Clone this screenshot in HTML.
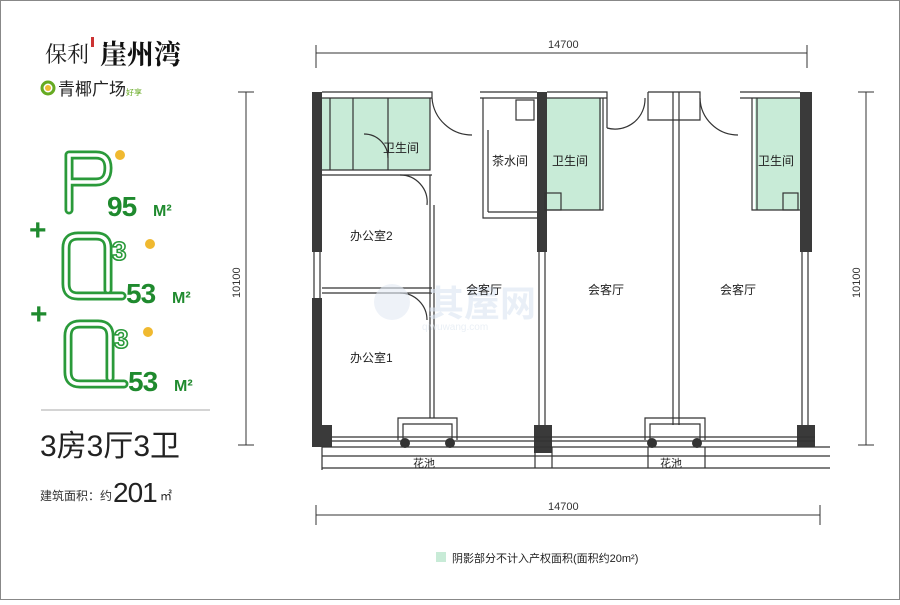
<!DOCTYPE html>
<html><head><meta charset="utf-8"><style>
body{margin:0;width:900px;height:600px;background:#fff;overflow:hidden;font-family:"Liberation Sans","Noto Sans CJK SC",sans-serif}
</style></head><body>
<svg width="900" height="600" viewBox="0 0 900 600" xmlns="http://www.w3.org/2000/svg" font-family="Liberation Sans, Noto Sans CJK SC, sans-serif">
<rect x="0.5" y="0.5" width="899" height="599" fill="#fff" stroke="#888" stroke-width="1"/>
<!-- Left panel -->
<text x="45" y="62" font-size="22" fill="#222" font-family="Noto Serif CJK SC, serif">保利</text>
<rect x="91" y="37" width="3" height="10" fill="#c33"/>
<text x="100" y="64" font-size="27" font-weight="bold" fill="#111" font-family="Noto Serif CJK SC, serif">崖州湾</text>
<circle cx="48" cy="88" r="6" fill="none" stroke="#6a2" stroke-width="3"/>
<circle cx="48" cy="88" r="3" fill="#eb3"/>
<text x="58" y="95" font-size="17" fill="#222">青椰广场</text>
<text x="126" y="95" font-size="8" fill="#6a2">好享</text>
<g fill="none" stroke-linejoin="round" stroke-linecap="round">
<g stroke="#2a9a3a" stroke-width="9">
<path d="M69 210 V155 H96 Q108 155 108 168 Q108 182 96 182 H69"/>
<path d="M108 290 V248 Q108 236 96 236 H78 Q66 236 66 248 V284 Q66 296 78 296 H122"/>
<path d="M110 378 V336 Q110 324 98 324 H80 Q68 324 68 336 V372 Q68 384 80 384 H124"/>
</g>
<g stroke="#fff" stroke-width="3.5">
<path d="M69 210 V155 H96 Q108 155 108 168 Q108 182 96 182 H69"/>
<path d="M108 290 V248 Q108 236 96 236 H78 Q66 236 66 248 V284 Q66 296 78 296 H122"/>
<path d="M110 378 V336 Q110 324 98 324 H80 Q68 324 68 336 V372 Q68 384 80 384 H124"/>
</g>
</g>
<text x="112" y="260" font-size="26" font-weight="bold" fill="#fff" stroke="#2a9a3a" stroke-width="1.6">3</text>
<text x="114" y="348" font-size="26" font-weight="bold" fill="#fff" stroke="#2a9a3a" stroke-width="1.6">3</text>
<circle cx="120" cy="155" r="5" fill="#f0b930"/>
<circle cx="150" cy="244" r="5" fill="#f0b930"/>
<circle cx="148" cy="332" r="5" fill="#f0b930"/>
<g fill="#1f8a2e" font-weight="bold" font-family="Liberation Sans, sans-serif">
<text x="107" y="216" font-size="28" letter-spacing="-1">95</text><text x="153" y="216" font-size="16">M²</text>
<text x="126" y="303" font-size="28" letter-spacing="-1">53</text><text x="172" y="303" font-size="16">M²</text>
<text x="128" y="391" font-size="28" letter-spacing="-1">53</text><text x="174" y="391" font-size="16">M²</text>
<text x="29" y="240" font-size="30">+</text>
<text x="30" y="324" font-size="30">+</text>
</g>
<line x1="41" y1="410" x2="210" y2="410" stroke="#aaa" stroke-width="1"/>
<text x="40" y="456" font-size="30" fill="#222">3房3厅3卫</text>
<text x="40" y="500" font-size="12" fill="#333">建筑面积：约</text>
<text x="113" y="502" font-size="28" fill="#222" letter-spacing="-1">201</text>
<text x="160" y="500" font-size="12" fill="#222">㎡</text>
<!-- dimensions -->
<g stroke="#333" stroke-width="1" fill="none">
<line x1="316" y1="53" x2="807" y2="53"/><line x1="316" y1="45" x2="316" y2="68"/><line x1="807" y1="45" x2="807" y2="68"/>
<line x1="316" y1="515" x2="820" y2="515"/><line x1="316" y1="505" x2="316" y2="525"/><line x1="820" y1="505" x2="820" y2="525"/>
<line x1="246" y1="92" x2="246" y2="445"/><line x1="238" y1="92" x2="254" y2="92"/><line x1="238" y1="445" x2="254" y2="445"/>
<line x1="866" y1="92" x2="866" y2="445"/><line x1="858" y1="92" x2="874" y2="92"/><line x1="858" y1="445" x2="874" y2="445"/>
</g>
<g font-size="11" fill="#333">
<text x="548" y="48">14700</text>
<text x="548" y="510">14700</text>
<text transform="translate(240,298) rotate(-90)">10100</text>
<text transform="translate(860,298) rotate(-90)">10100</text>
</g>
<!-- green areas -->
<g fill="#c8ebd7">
<rect x="322" y="98" width="108" height="72"/>
<rect x="545" y="98" width="56" height="112"/>
<rect x="755" y="98" width="45" height="112"/>
<rect x="436" y="552" width="10" height="10"/>
</g>
<!-- walls -->
<g fill="#3a3a3a">
<rect x="312" y="92" width="10" height="160"/>
<rect x="312" y="298" width="10" height="145"/>
<rect x="312" y="425" width="20" height="22"/>
<rect x="537" y="92" width="10" height="160"/>
<rect x="534" y="425" width="18" height="28"/>
<rect x="800" y="92" width="12" height="160"/>
<rect x="797" y="425" width="18" height="22"/>
</g>
<g stroke="#333" stroke-width="1.2" fill="none">
<polyline points="322,92 432,92 432,98 322,98"/>
<polyline points="480,92 537,92"/><polyline points="547,92 607,92 607,128"/>
<polyline points="648,92 700,92 700,120 648,120 648,92"/>
<polyline points="740,92 800,92"/><line x1="740" y1="98" x2="800" y2="98"/>
<line x1="480" y1="98" x2="537" y2="98"/><line x1="547" y1="98" x2="607" y2="98"/>
<polyline points="322,170 430,170 430,98"/><line x1="322" y1="175" x2="432" y2="175"/>
<line x1="353" y1="98" x2="353" y2="170"/><line x1="388" y1="98" x2="388" y2="170"/>
<path d="M388 158 A24 24 0 0 0 364 134"/>
<line x1="330" y1="98" x2="330" y2="170"/>
<line x1="430" y1="175" x2="430" y2="418"/><line x1="434" y1="205" x2="434" y2="418"/>
<line x1="322" y1="288" x2="432" y2="288"/><line x1="322" y1="293" x2="432" y2="293"/>
<path d="M400 175 A27 27 0 0 1 427 205"/>
<path d="M400 293 A27 27 0 0 1 427 320"/>
<path d="M432 98 A40 40 0 0 0 472 135"/><path d="M607 128 A30 30 0 0 0 645 98"/>
<path d="M700 98 A38 38 0 0 0 738 135"/>
<polyline points="483,98 483,218 537,218"/><line x1="488" y1="130" x2="488" y2="212"/><line x1="488" y1="212" x2="537" y2="212"/>
<rect x="516" y="100" width="18" height="20"/>
<polyline points="545,210 603,210 603,98"/><rect x="545" y="193" width="16" height="17"/>
<line x1="600" y1="98" x2="600" y2="210"/>
<polyline points="752,98 752,210 800,210"/><rect x="783" y="193" width="15" height="17"/>
<line x1="757" y1="98" x2="757" y2="210"/>
<line x1="539" y1="252" x2="539" y2="425"/><line x1="545" y1="252" x2="545" y2="425"/>
<line x1="673" y1="92" x2="673" y2="425"/><line x1="679" y1="92" x2="679" y2="425"/>
<line x1="802" y1="252" x2="802" y2="425"/><line x1="808" y1="252" x2="808" y2="425"/>
<line x1="314" y1="252" x2="314" y2="298"/><line x1="320" y1="252" x2="320" y2="298"/>
<polyline points="398,440 398,418 457,418 457,440"/><polyline points="403,440 403,424 452,424 452,440"/>
<polyline points="645,440 645,418 705,418 705,440"/><polyline points="650,440 650,424 700,424 700,440"/>
<line x1="332" y1="437" x2="815" y2="437"/><line x1="332" y1="441" x2="815" y2="441"/>
<line x1="322" y1="447" x2="830" y2="447"/><line x1="322" y1="468" x2="830" y2="468"/>
<line x1="322" y1="456" x2="830" y2="456"/>
<line x1="322" y1="447" x2="322" y2="470"/><line x1="535" y1="447" x2="535" y2="468"/><line x1="552" y1="447" x2="552" y2="468"/>
<line x1="648" y1="447" x2="648" y2="468"/><line x1="705" y1="447" x2="705" y2="468"/>
</g>
<g fill="#333">
<circle cx="405" cy="443" r="5"/><circle cx="450" cy="443" r="5"/>
<circle cx="652" cy="443" r="5"/><circle cx="697" cy="443" r="5"/>
</g>
<!-- watermark -->
<g opacity="0.6">
<text x="428" y="316" font-size="36" font-weight="bold" fill="#dbe6f2">其屋网</text>
<circle cx="392" cy="302" r="18" fill="#e3eaf4"/>
<text x="422" y="330" font-size="10" fill="#dde6f0">qiwuwang.com</text>
</g>
<!-- labels -->
<g font-size="12" fill="#222">
<text x="383" y="152">卫生间</text>
<text x="492" y="165">茶水间</text>
<text x="552" y="165">卫生间</text>
<text x="758" y="165">卫生间</text>
<text x="350" y="240">办公室2</text>
<text x="350" y="362">办公室1</text>
<text x="466" y="294">会客厅</text>
<text x="588" y="294">会客厅</text>
<text x="720" y="294">会客厅</text>
<text x="413" y="467" font-size="11">花池</text>
<text x="660" y="467" font-size="11">花池</text>
<text x="452" y="562" font-size="11">阴影部分不计入产权面积(面积约20m²)</text>
</g>
</svg>
</body></html>
